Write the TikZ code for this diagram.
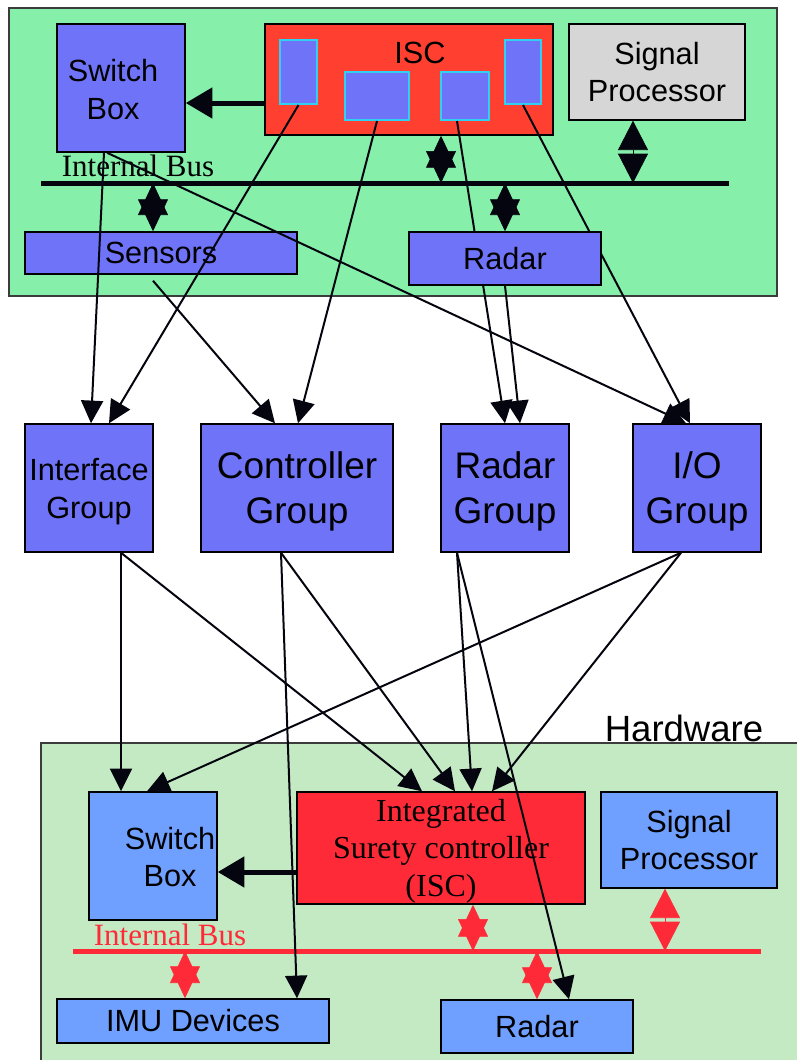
\documentclass[tikz,border=0pt]{standalone}
\usepackage{fontspec}
\setmainfont{Liberation Sans}
\newfontfamily\tnrfam{Liberation Serif}
\usetikzlibrary{arrows.meta}
\pgfdeclarelayer{back}
\pgfdeclarelayer{front}
\pgfsetlayers{back,main,front}
\definecolor{topgreen}{RGB}{134,239,170}
\definecolor{botgreen}{RGB}{196,234,196}
\definecolor{vblue}{RGB}{111,115,248}
\definecolor{lblue}{RGB}{111,160,255}
\definecolor{iscred}{RGB}{255,64,48}
\definecolor{iscredB}{RGB}{255,42,56}
\definecolor{cyanb}{RGB}{48,208,240}
\definecolor{spgray}{RGB}{214,214,214}
\definecolor{arrowblack}{RGB}{5,5,15}
\definecolor{panelgray}{RGB}{60,60,60}
\newcommand\ftxt{\fontsize{23pt}{28pt}\selectfont}
\newcommand\fgrp{\fontsize{27.75pt}{33.75pt}\selectfont}
\newcommand\fifc{\fontsize{23pt}{28.5pt}\selectfont}
\newcommand\fhw{\fontsize{27.4pt}{32pt}\selectfont}
\newcommand\fser{\tnrfam\fontsize{23.25pt}{28pt}\selectfont}
\newcommand\fiscb{\tnrfam\fontsize{24pt}{28pt}\selectfont}
\begin{document}
\begin{tikzpicture}[x=0.75pt,y=-0.75pt,
  panel/.style={draw=panelgray,line width=0.8pt},
  bx/.style={draw=black,line width=1.1pt,inner sep=0pt,align=center,font=\ftxt},
  boxV/.style={bx,fill=vblue},
  boxL/.style={bx,fill=lblue},
  boxG/.style={bx,fill=spgray},
  boxR/.style={bx,fill=iscred},
  boxRB/.style={bx,fill=iscredB},
  grp/.style={boxV,minimum height=96pt,font=\fgrp,text depth=0pt},
  inr/.style={draw=cyanb,line width=1.5pt,fill=vblue,inner sep=0pt},
  txt/.style={inner sep=0pt,align=center,font=\ftxt},
  sertxt/.style={inner sep=0pt,font=\fser},
  conn/.style={draw=arrowblack,line width=1.5pt,-{Triangle[width=16.5pt,length=17pt]}},
  fatarr/.style={draw=arrowblack,line width=3.75pt,-{Triangle[width=22.5pt,length=20pt]}},
  busline/.style={line width=3.75pt},
  starB/.style={draw=arrowblack,fill=arrowblack,line width=0.5pt,{Triangle[width=22.5pt,length=24pt]}-{Triangle[width=22.5pt,length=24pt]}},
  dblB/.style={draw=arrowblack,fill=arrowblack,line width=0.5pt,{Triangle[width=22.5pt,length=22pt]}-{Triangle[width=22.5pt,length=22pt]}},
  starR/.style={draw=iscredB,fill=iscredB,line width=0.5pt,{Triangle[width=22.5pt,length=24pt]}-{Triangle[width=22.5pt,length=24pt]}},
  dblR/.style={draw=iscredB,fill=iscredB,line width=0.5pt,{Triangle[width=22.5pt,length=22pt]}-{Triangle[width=22.5pt,length=22pt]}}
]
\useasboundingbox (0,0) rectangle (796,1060);
\begin{pgfonlayer}{back}
  \path[panel,fill=topgreen] (9,8) rectangle (777,296);
  \path[panel,fill=botgreen] (41,743) rectangle (806,1070);
\end{pgfonlayer}

% ---- top section ----
\node[boxV,minimum width=96pt,minimum height=96pt] (sbT) at (121,88) {};
\node[txt] (sbTl) at (113,89.5) {Switch\\Box};
\node[boxR,minimum width=216pt,minimum height=83.25pt] (iscT) at (409,79.5) {};
\node[txt] (iscTl) at (420,53) {ISC};
\node[inr,minimum width=27.75pt,minimum height=48pt] (r1) at (298.5,72) {};
\node[inr,minimum width=48pt,minimum height=36pt] (r2) at (377,96) {};
\node[inr,minimum width=36pt,minimum height=36pt] (r3) at (465,96) {};
\node[inr,minimum width=27pt,minimum height=48pt] (r4) at (523,72) {};
\node[boxG,minimum width=132pt,minimum height=72pt] (spT) at (657,72) {Signal\\Processor};
\coordinate (busTL) at (41,183);
\coordinate (busTR) at (729,183);
\draw[busline,arrowblack] (busTL) -- (busTR);
\node[sertxt] (ibT) at (138,166) {Internal Bus};
\node[boxV,minimum width=204pt,minimum height=31.5pt,text depth=0pt] (sens) at (161,253) {Sensors};
\begin{pgfonlayer}{front}
  \node[boxV,minimum width=144pt,minimum height=39.75pt] (radT) at (505,258.5) {Radar};
\end{pgfonlayer}

% ---- groups ----
\node[grp,minimum width=96pt,font=\fifc] (ifg) at (89,488) {Interface\\Group};
\node[grp,minimum width=144pt] (cg) at (297,488) {Controller\\Group};
\node[grp,minimum width=96pt] (rg) at (505,488) {Radar\\Group};
\node[grp,minimum width=96pt] (iog) at (697,488) {I/O\\Group};

% ---- bottom section ----
\node[txt,font=\fhw] (hw) at (684,728) {Hardware};
\node[boxL,minimum width=96pt,minimum height=96pt] (sbB) at (153,856) {};
\node[txt] (sbBl) at (170,857) {Switch\\Box};
\node[boxRB,minimum width=216pt,minimum height=84pt] (iscB) at (441,848) {};
\node[txt,font=\fiscb] (iscBl) at (441,851) {Integrated\\Surety controller\\(ISC)};
\node[boxL,minimum width=132pt,minimum height=72pt] (spB) at (689,840) {Signal\\Processor};
\coordinate (busBL) at (73,951);
\coordinate (busBR) at (761,951);
\draw[busline,iscredB] (busBL) -- (busBR);
\node[sertxt,text=iscredB] (ibB) at (170,935) {Internal Bus};
\node[boxL,minimum width=204pt,minimum height=33pt] (imu) at (193,1021) {IMU Devices};
\node[boxL,minimum width=144pt,minimum height=39.75pt] (radB) at (537,1026.5) {Radar};

% ---- thick arrows ----
\coordinate (fa1) at ([yshift=-17.625pt]iscT.west);
\draw[fatarr] (fa1) -- (fa1 -| sbT.east);
\coordinate (fa2) at ([yshift=-18pt]iscB.west);
\draw[fatarr] (fa2) -- (fa2 -| sbB.east);

% ---- top bus double arrows ----
\coordinate (t1) at ([xshift=24pt]iscT.south);
\draw[starB] (t1) -- (t1 |- busTL);
\coordinate (t2) at ([xshift=-6pt]sens.north);
\draw[starB] (t2 |- busTL) -- (t2);
\draw[starB] (radT.north |- busTL) -- (radT.north);
\coordinate (t4) at ([xshift=-18pt]spT.south);
\draw[dblB] (t4) -- (t4 |- busTL);

% ---- bottom bus double arrows ----
\coordinate (b1) at ([xshift=-6pt]imu.north);
\draw[starR] (b1 |- busBL) -- (b1);
\coordinate (b2) at ([xshift=24pt]iscB.south);
\draw[starR] (b2) -- (b2 |- busBL);
\draw[starR] (radB.north |- busBL) -- (radB.north);
\coordinate (b4) at ([xshift=-18pt]spB.south);
\draw[dblR] (b4) -- (b4 |- busBL);

% ---- top to groups ----
\draw[conn] ([xshift=-12.75pt]sbT.south) -- ([xshift=1.5pt]ifg.north);
\draw[conn] (r1.south) -- ([xshift=15pt]ifg.north);
\draw[conn] ([xshift=-6pt,yshift=-4.5pt]sens.south) -- ([xshift=-16.5pt]cg.north);
\draw[conn] (r2.south) -- ([xshift=0.75pt]cg.north);
\draw[conn] ([xshift=-10.5pt]sbT.south) -- ([xshift=-8.25pt]iog.north);
\draw[conn] (r4.south) -- ([xshift=-5.25pt]iog.north);
\draw[conn] ([xshift=-6pt]r3.south) -- (rg.north);
\draw[conn] (radT.south) -- ([xshift=11.25pt]rg.north);

% ---- groups to bottom ----
\coordinate (ifgS) at ([xshift=24pt]ifg.south);
\draw[conn] (ifgS) -- ([xshift=-24pt]sbB.north);
\draw[conn] (ifgS) -- ([xshift=-14.25pt]iscB.north);
\coordinate (cgS) at ([xshift=-12pt]cg.south);
\draw[conn] (cgS) -- ([xshift=10.5pt]iscB.north);
\draw[conn] (cgS) -- ([xshift=78pt]imu.north);
\coordinate (rgS) at ([xshift=-36pt]rg.south);
\draw[conn] (rgS) -- ([xshift=23.25pt]iscB.north);
\draw[conn] (rgS) -- ([xshift=24pt]radB.north);
\coordinate (iogS) at ([xshift=-12pt]iog.south);
\draw[conn] (iogS) -- ([xshift=-4.5pt]sbB.north);
\draw[conn] (iogS) -- ([xshift=38.25pt]iscB.north);
\end{tikzpicture}
\end{document}
